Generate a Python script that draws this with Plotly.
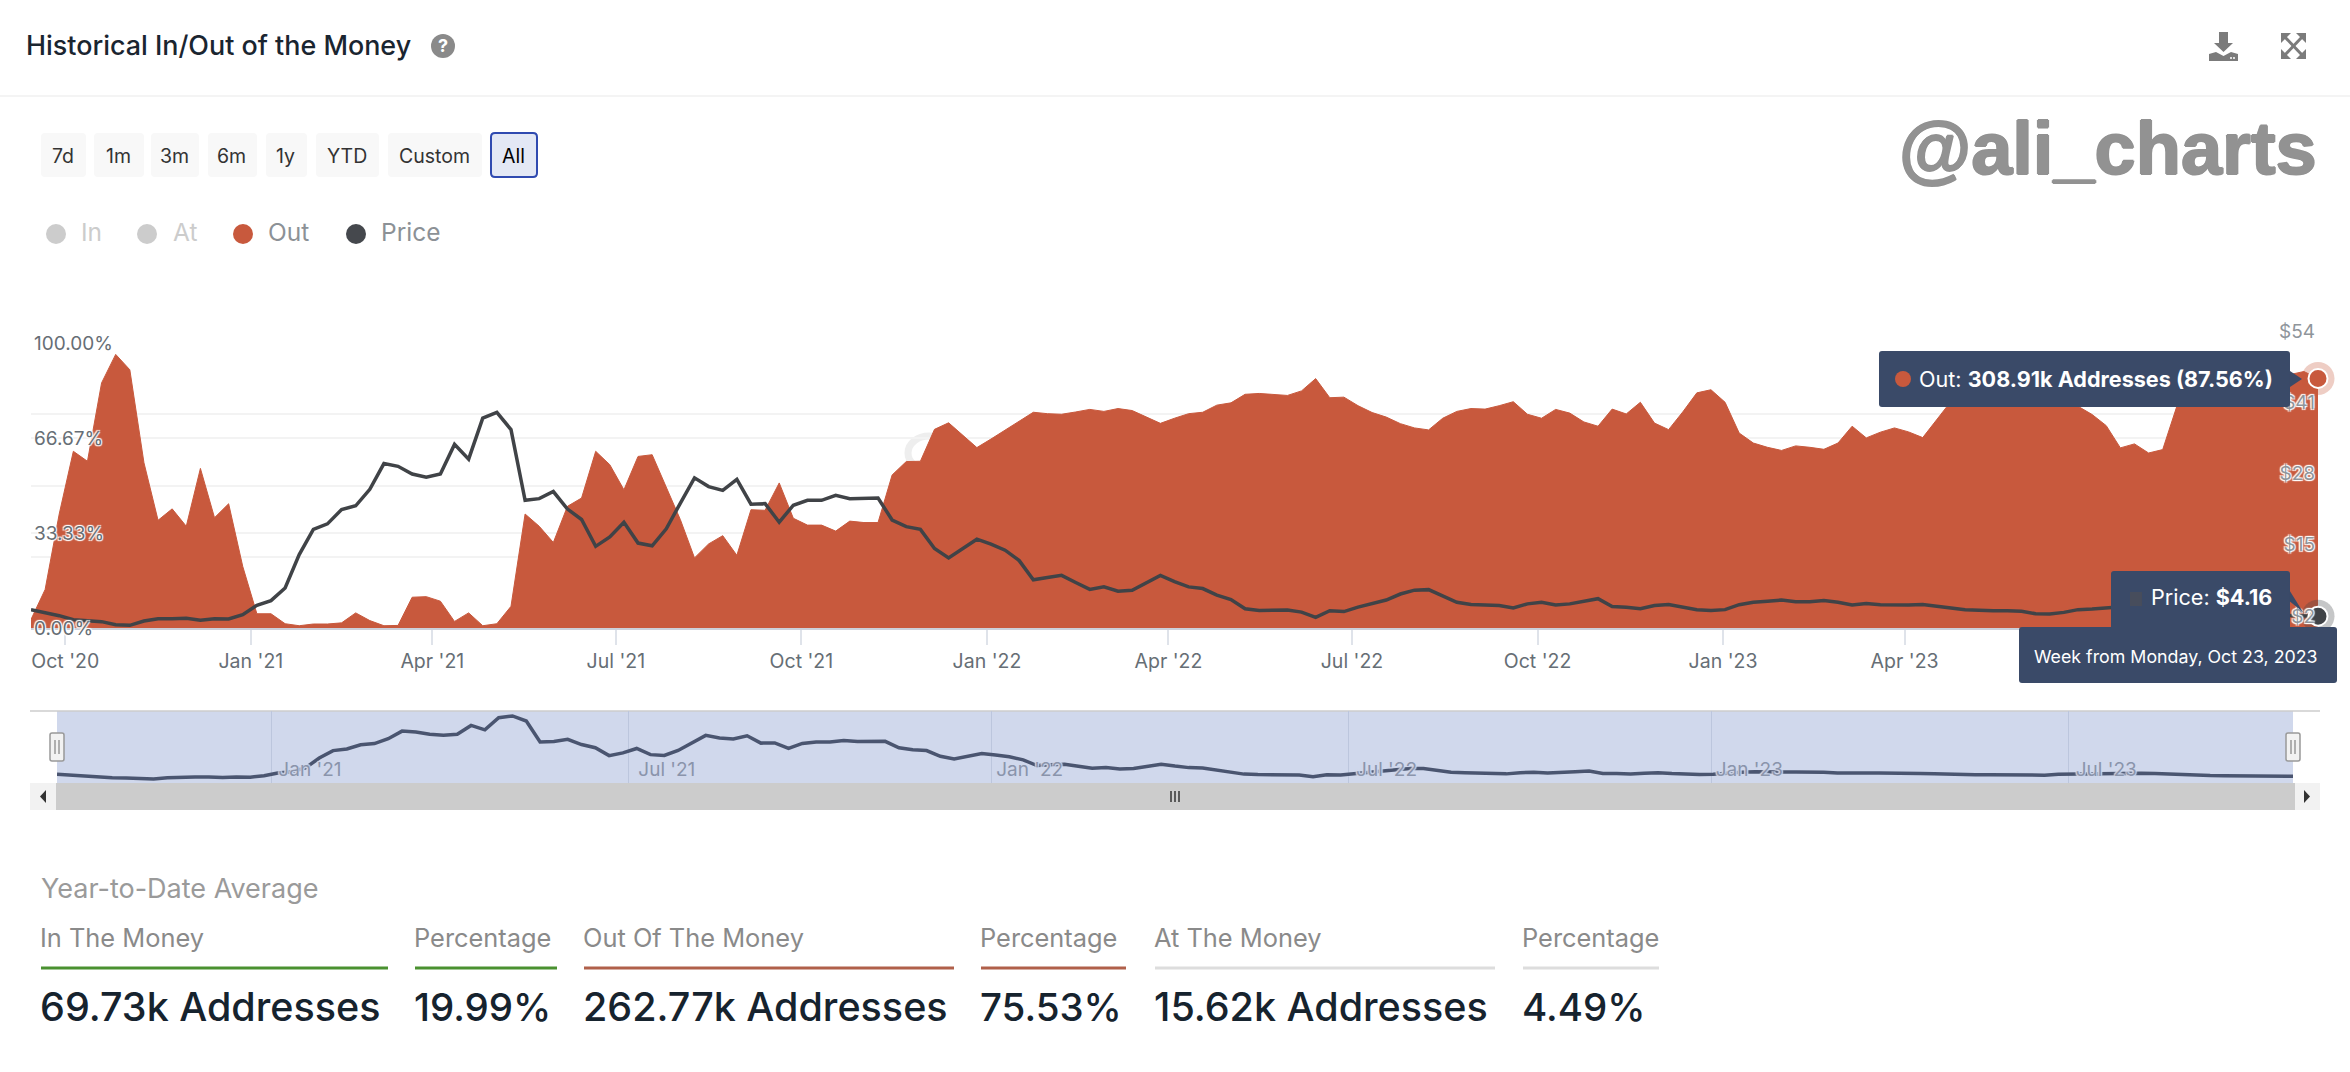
import pandas as pd
import plotly.graph_objects as go

W, H = 2350, 1072
FONT = "Inter"

# ---------- data ----------
week_start = "2020-09-14"
out_pct = [3, 13.5, 40, 62, 58.5, 86, 96, 90.6, 58, 37.8, 41.8, 35.7, 56, 38.7, 43.6, 21.6, 5, 5, 1.5, 0.8,
           1.4, 1.4, 1.8, 5.3, 2.6, 0.8, 0.9, 10.8, 11, 9.4, 2.3, 5.3, 0.8, 1.5, 7.6, 40, 35.7, 30, 42.7, 45.6,
           62, 57.3, 48.5, 60.2, 60.8, 49.7, 38, 24.6, 29.5, 32.4, 25.5, 41.5, 41.3, 50.9, 38.5, 36.1, 36.1, 34, 37.5, 37,
           37, 53.7, 58.4, 58.5, 69.7, 72, 67.7, 63.3, 66.3, 69.5, 72.4, 75.7, 75.2, 75, 75.8, 76.7, 76, 77, 76.3, 74,
           71.8, 73.6, 75.2, 75.7, 78.2, 79, 82, 82.3, 82, 81.6, 83.2, 87.5, 80.8, 81, 78, 75.6, 74, 71.7, 70.2, 69.5,
           73.6, 76, 77, 76.8, 78, 79.4, 75, 73.6, 76.7, 75.4, 72.3, 70.8, 76.8, 75.1, 79.2, 71.9, 69.6, 75.8, 82.5, 83.6,
           79.2, 68.4, 64.9, 63.4, 62.3, 63.9, 63.4, 62.7, 64.9, 70.8, 66.7, 68.7, 70.2, 68.8, 66.8, 73.1, 79.5, 82, 84, 85,
           85, 85, 84, 83, 80, 77.8, 74.9, 71, 63.2, 64.6, 61.4, 62.6, 77.8, 84.8, 87, 88, 88.5, 88.5, 88, 88.5,
           88.9, 90, 87.56]
price_usd = [5.35, 4.86, 4.25, 3.52, 3.28, 3.16, 2.61, 2.49, 3.28, 3.7, 3.7, 3.76, 3.4, 3.7, 3.64, 4.44, 6.14, 7, 9.3, 15.4,
             20, 21, 23.6, 24.3, 27.3, 32, 31.5, 30.1, 29.5, 30.1, 35.5, 32.8, 40.3, 41.35, 38.2, 25.3, 25.6, 26.9, 23.7, 21.8,
             16.9, 18.6, 21.3, 17.5, 17, 20.1, 24.8, 29.4, 27.8, 27.1, 29.1, 24.6, 24.7, 21.3, 24.4, 25.3, 25.3, 26.2, 25.6, 25.6,
             25.7, 21.7, 20.5, 20, 16.5, 14.8, 16.5, 18.2, 17.3, 16.2, 14.3, 10.8, 11.2, 11.6, 10.3, 9.05, 9.5, 8.7, 8.9, 10.3,
             11.6, 10.45, 9.5, 9.2, 8, 7.2, 5.5, 5.2, 5.2, 5.3, 4.9, 3.95, 5.15, 5, 5.8, 6.5, 7.1, 8.2, 8.9, 9,
             7.8, 6.7, 6.3, 6.25, 6.1, 5.65, 6.4, 6.7, 6.2, 6.4, 6.9, 7.35, 5.9, 5.8, 5.5, 6.1, 6.3, 5.8, 5.35, 5.2,
             5.35, 6.25, 6.7, 6.9, 7.1, 6.8, 6.8, 7, 6.7, 6.2, 6.45, 6.25, 6.15, 6.2, 6.3, 5.9, 5.65, 5.35, 5.2, 5.15,
             5.15, 5.05, 4.6, 4.55, 4.85, 5.35, 5.45, 5.65, 5.8, 5.95, 6.25, 6.1, 5.8, 5.4, 5, 4.8, 4.6, 4.5, 4.4, 4.3,
             4.3, 4.2, 4.16]
dates = pd.date_range(week_start, periods=len(out_pct), freq="7D")

x_ticks = ["2020-10-01", "2021-01-01", "2021-04-01", "2021-07-01", "2021-10-01", "2022-01-01", "2022-04-01",
           "2022-07-01", "2022-10-01", "2023-01-01", "2023-04-01"]
x_labels = ["Oct '20", "Jan '21", "Apr '21", "Jul '21", "Oct '21", "Jan '22", "Apr '22",
            "Jul '22", "Oct '22", "Jan '23", "Apr '23"]
nav_ticks = ["2021-01-01", "2021-07-01", "2022-01-01", "2022-07-01", "2023-01-01", "2023-07-01"]
nav_labels = ["Jan '21", "Jul '21", "Jan '22", "Jul '22", "Jan '23", "Jul '23"]
pct_ticks = [0, 33.33, 66.67, 100]
pct_labels = ["0.00%", "33.33%", "66.67%", "100.00%"]
usd_ticks = [2, 15, 28, 41, 54]
usd_labels = ["$2", "$15", "$28", "$41", "$54"]
range_buttons = ["7d", "1m", "3m", "6m", "1y", "YTD", "Custom", "All"]
stat_heads = ["In The Money", "Percentage", "Out Of The Money", "Percentage", "At The Money", "Percentage"]
stat_values = ["69.73k Addresses", "19.99%", "262.77k Addresses", "75.53%", "15.62k Addresses", "4.49%"]

RED, DARK, NAVY = "#c8593d", "#404347", "#3a4a68"


def px(x):
    return x / W


def py(y):
    return 1 - y / H


shapes, notes = [], []


def label(x, y, s, size, color, anchor="left", weight=400, family=FONT, shadow=None):
    f = dict(size=size, color=color, family=family, weight=weight)
    if shadow:
        f["shadow"] = shadow
    notes.append(dict(x=px(x), y=py(y), xref="paper", yref="paper", text=s, showarrow=False, xanchor=anchor,
                      yanchor="middle", borderpad=0, borderwidth=0, font=f))


def poly(points, fill, layer="above"):
    d = "M" + " L".join(f"{px(a):.6f},{py(b):.6f}" for a, b in points) + " Z"
    shapes.append(dict(type="path", xref="paper", yref="paper", path=d, fillcolor=fill, line_width=0, layer=layer))


def rrect(x0, y0, x1, y1, r, fill, line=None, lw=0, layer="above"):
    p = lambda a, b: f"{px(a):.6f},{py(b):.6f}"
    d = (f"M{p(x0 + r, y0)} L{p(x1 - r, y0)} Q{p(x1, y0)} {p(x1, y0 + r)} L{p(x1, y1 - r)} Q{p(x1, y1)} {p(x1 - r, y1)} "
         f"L{p(x0 + r, y1)} Q{p(x0, y1)} {p(x0, y1 - r)} L{p(x0, y0 + r)} Q{p(x0, y0)} {p(x0 + r, y0)} Z")
    shapes.append(dict(type="path", xref="paper", yref="paper", path=d, fillcolor=fill,
                       line=dict(color=line or fill, width=lw), layer=layer))


def dot(cx, cy, r, fill, line=None, layer="above"):
    shapes.append(dict(type="circle", xref="paper", yref="paper", x0=px(cx - r), x1=px(cx + r), y0=py(cy + r), y1=py(cy - r),
                       fillcolor=fill, line=dict(color=line or fill, width=0), layer=layer))


def seg(x0, y0, x1, y1, color, width, layer="above"):
    shapes.append(dict(type="line", xref="paper", yref="paper", x0=px(x0), x1=px(x1), y0=py(y0), y1=py(y1),
                       line=dict(color=color, width=width), layer=layer))


# ---------- header ----------
label(26, 45, "Historical In/Out of the Money", 26.9, "#1a2530", weight=500)
dot(443, 46, 12, "#8a8a8a")
label(443, 46, "?", 18, "#ffffff", "center", 700)
seg(0, 96, W, 96, "#f1f1f1", 1.5)
label(1899, 148, "@ali_charts", 74, "#929292", weight=700, family="Liberation Sans",
      shadow="1px 0 0 #929292, -1px 0 0 #929292, 0 1px 0 #929292, 0 -1px 0 #929292")
# download icon
poly([(2219, 32), (2228, 32), (2228, 43), (2233, 43), (2223.5, 52), (2214, 43), (2219, 43)], "#7b7b7b")
poly([(2209, 54), (2216, 52), (2223.5, 56), (2231, 52), (2238, 54), (2238, 61), (2209, 61)], "#7b7b7b")
dot(2231, 58, 1, "#ffffff")
dot(2234, 58, 1, "#ffffff")
# expand icon
seg(2284, 36, 2303, 56, "#7b7b7b", 3)
seg(2303, 36, 2284, 56, "#7b7b7b", 3)
for a, b, c, d in [(2281, 33, 1, 1), (2306, 33, -1, 1), (2281, 59, 1, -1), (2306, 59, -1, -1)]:
    poly([(a, b), (a + 10 * c, b), (a, b + 10 * d)], "#7b7b7b")

# ---------- range buttons ----------
btn_x = [(41, 86), (94, 144), (151, 199), (208, 257), (266, 307), (316, 379), (388, 482), (491, 537)]
for name, (a, b) in zip(range_buttons, btn_x):
    on = name == "All"
    rrect(a, 133, b, 177, 4, "#e3e8f5" if on else "#f8f8f8", "#2f4ab0" if on else None, 2 if on else 0)
    label((a + b) / 2 - 1, 156, name, 19.5, "#000000" if on else "#333333", "center")

# ---------- legend ----------
legend_items = [("In", 56, 81, "#cccccc", "#cccccc"), ("At", 147, 173, "#cccccc", "#cccccc"),
                ("Out", 243, 268, RED, "#8c9196"), ("Price", 356, 381, "#45484d", "#8c9196")]
for name, dx, tx, dc, tc in legend_items:
    dot(dx, 234, 10, dc)
    label(tx, 232, name, 24.5, tc)

# ---------- navigator furniture ----------
rrect(57, 711, 2293, 783, 0, "#d0d8ec", layer="below")
seg(30, 711, 2320, 711, "#cccccc", 1.5, "below")
rrect(30, 783, 2320, 810, 0, "#cccccc")
rrect(30, 783, 56, 810, 0, "#f2f2f2")
rrect(2295, 783, 2320, 810, 0, "#f2f2f2")
poly([(40, 796.5), (46, 790), (46, 803)], "#333333")
poly([(2310, 796.5), (2304, 790), (2304, 803)], "#333333")
for gx in (1171, 1175, 1179):
    seg(gx, 791, gx, 802, "#333333", 1.5)
for hx in (57, 2293):
    rrect(hx - 7, 733, hx + 7, 761, 2, "#f2f2f2", "#999999", 1.5)
    seg(hx - 2, 740, hx - 2, 754, "#999999", 1.5)
    seg(hx + 2, 740, hx + 2, 754, "#999999", 1.5)

# ---------- faint logo behind the area ----------
shapes.append(dict(type="circle", xref="paper", yref="paper", x0=px(908), x1=px(950), y0=py(470), y1=py(436),
                   fillcolor="rgba(0,0,0,0)", line=dict(color="#eeeeee", width=7), layer="below"))

# ---------- tooltips ----------
rrect(1879, 351, 2290, 407, 3, NAVY)
poly([(2290, 371), (2302, 379), (2290, 387)], NAVY)
dot(1903, 379, 8, RED)
label(1919, 379, "Out: <b>308.91k Addresses (87.56%)</b>", 21.6, "#ffffff")
poly([(2288, 588), (2303, 612), (2288, 600)], NAVY)
rrect(2111, 571, 2290, 630, 3, NAVY)
rrect(2130, 592, 2142, 606, 0, "#474d5c")
label(2272, 597, "Price: <b>$4.16</b>", 21.6, "#ffffff", "right")
rrect(2019, 627, 2337, 683, 3, NAVY)
label(2176, 656, "Week from Monday, Oct 23, 2023", 17.8, "#ffffff", "center")

# ---------- summary stats ----------
stat_x = [41, 415, 584, 981, 1155, 1523]
stat_r = [388, 557, 954, 1126, 1495, 1659]
stat_c = ["#4a9130", "#4a9130", "#b0604a", "#b0604a", "#dddddd", "#dddddd"]
label(41, 888, "Year-to-Date Average", 27, "#9a9a9a")
for head, val, a, b, c in zip(stat_heads, stat_values, stat_x, stat_r, stat_c):
    label(a - 1, 937, head, 25.4, "#8a8a8a")
    seg(a, 968, b, 968, c, 3)
    label(a - 1, 1007, val, 39.5 if "Addresses" in val else 38.5, "#16232e", weight=500)

# ---------- figure ----------
HALO = "1px 1px 1px #fff, -1px -1px 1px #fff, 1px -1px 1px #fff, -1px 1px 1px #fff"
NAV_HALO = "1px 1px 1px #d0d8ec, -1px -1px 1px #d0d8ec, 1px -1px 1px #d0d8ec, -1px 1px 1px #d0d8ec"

fig = go.Figure()
fig.add_trace(go.Scatter(x=dates, y=out_pct, mode="lines", name="Out", fill="tozeroy", fillcolor=RED,
                         line=dict(color=RED, width=1), xaxis="x", yaxis="y"))
fig.add_trace(go.Scatter(x=dates, y=price_usd, mode="lines", name="Price", line=dict(color=DARK, width=3.5),
                         xaxis="x", yaxis="y2"))
fig.add_trace(go.Scatter(x=dates[-1:], y=out_pct[-1:], mode="markers", cliponaxis=False, xaxis="x", yaxis="y",
                         marker=dict(size=33, color="rgba(200,89,61,0.3)")))
fig.add_trace(go.Scatter(x=dates[-1:], y=out_pct[-1:], mode="markers", cliponaxis=False, xaxis="x", yaxis="y",
                         marker=dict(size=19, color=RED, line=dict(color="#ffffff", width=2))))
fig.add_trace(go.Scatter(x=dates[-1:], y=price_usd[-1:], mode="markers", cliponaxis=False, xaxis="x", yaxis="y2",
                         marker=dict(size=33, color="rgba(64,67,71,0.3)")))
fig.add_trace(go.Scatter(x=dates[-1:], y=price_usd[-1:], mode="markers", cliponaxis=False, xaxis="x", yaxis="y2",
                         marker=dict(size=19, color=DARK, line=dict(color="#ffffff", width=2))))
fig.add_trace(go.Scatter(x=dates, y=price_usd, mode="lines", name="Price (navigator)",
                         line=dict(color="#4a5570", width=3.5), xaxis="x3", yaxis="y3"))

fig.update_layout(
    width=W, height=H, margin=dict(l=0, r=0, t=0, b=0), paper_bgcolor="#ffffff", plot_bgcolor="rgba(0,0,0,0)",
    showlegend=False, hovermode=False, font=dict(family=FONT), shapes=shapes, annotations=notes,
    xaxis=dict(domain=[px(31), px(2318)], range=[dates[0], dates[-1]], type="date", tickmode="array", automargin=False,
               tickvals=x_ticks, ticktext=x_labels, ticks="outside", ticklen=15, tickwidth=1.5, tickcolor="#dfe3ea",
               tickfont=dict(size=19.5, color="#666e75", family=FONT), showgrid=False, showline=True,
               ticklabeloverflow="allow", linecolor="#ccd0da", linewidth=2, zeroline=False, anchor="y"),
    yaxis=dict(domain=[py(628), py(343)], range=[0, 100], tickmode="array", tickvals=pct_ticks, ticktext=pct_labels,
               ticklabelposition="inside", ticklabeloverflow="allow", automargin=False,
               tickfont=dict(size=19, color="#666e75", family=FONT, shadow=HALO),
               showgrid=True, gridcolor="#f3f3f3", gridwidth=1.5, zeroline=False, showline=False, anchor="x"),
    yaxis2=dict(domain=[py(628), py(343)], range=[2, 54], overlaying="y", side="right", tickmode="array",
                tickvals=usd_ticks, ticktext=usd_labels, ticklabelposition="inside", ticklabelshift=-12, automargin=False,
                ticklabeloverflow="allow", tickfont=dict(size=19, color="#8f959b", family=FONT, shadow=HALO),
                showgrid=True, gridcolor="#f3f3f3", gridwidth=1.5, zeroline=False, showline=False, anchor="x"),
    xaxis3=dict(domain=[px(57), px(2293)], range=[dates[0], dates[-1]], type="date", tickmode="array", automargin=False,
                tickvals=nav_ticks, ticktext=nav_labels, ticklabelposition="inside", ticklabelshift=38,
                ticklabeloverflow="allow", tickfont=dict(size=19, color="#8a94ab", family=FONT, shadow=NAV_HALO), ticks="",
                showgrid=True, gridcolor="#bcc6dd", gridwidth=1, zeroline=False, showline=False, anchor="y3"),
    yaxis3=dict(domain=[py(783), py(711)], range=[0.02, 44.4], showticklabels=False, showgrid=False, zeroline=False,
                showline=False, anchor="x3", automargin=False),
)

fig.write_html("out.html", config={"displayModeBar": False}, post_script="document.body.style.margin='0';")
